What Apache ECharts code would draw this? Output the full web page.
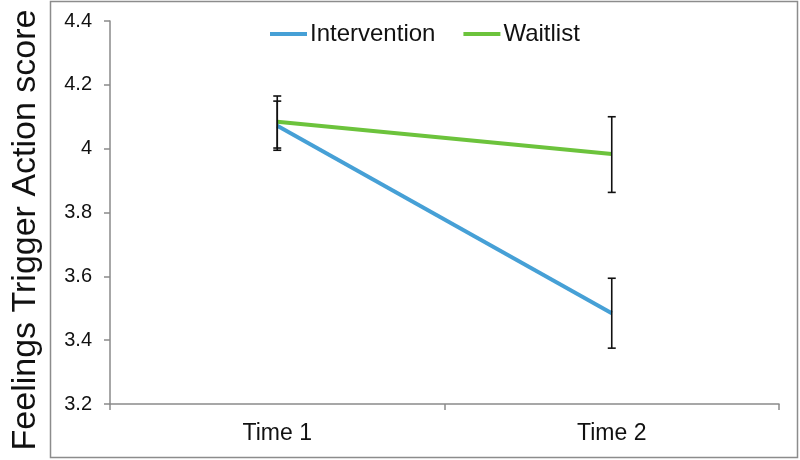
<!DOCTYPE html>
<html>
<head>
<meta charset="utf-8">
<script src="https://cdn.jsdelivr.net/npm/echarts@6/dist/echarts.min.js"></script>
<style>html,body{margin:0;padding:0;background:#fff}#c{width:800px;height:460px}</style>
</head>
<body>
<div id="c"></div>
<script>
const categories = ['Time 1', 'Time 2'];
const interventionMean = [4.072, 3.484];
const interventionLow = [3.995, 3.375];
const interventionHigh = [4.149, 3.594];
const waitlistMean = [4.084, 3.983];
const waitlistLow = [4.002, 3.863];
const waitlistHigh = [4.165, 4.100];
const yTitle = 'Feelings Trigger Action score';

const errData = [];
categories.forEach((c, i) => {
  errData.push([i, interventionLow[i], interventionHigh[i]]);
  errData.push([i, waitlistLow[i], waitlistHigh[i]]);
});

const chart = echarts.init(document.getElementById('c'), null, {renderer: 'canvas'});
const font = 'Liberation Sans, Arial, sans-serif';
chart.setOption({
  animation: false,
  backgroundColor: '#fff',
  textStyle: {fontFamily: font},
  graphic: [
    {type: 'rect', shape: {x: 50.5, y: 1.5, width: 747, height: 456}, style: {fill: 'none', stroke: '#8c8c8c', lineWidth: 1.5}, silent: true, z: -1},
    {type: 'text', x: 26, y: 230, rotation: Math.PI / 2, style: {text: yTitle, font: '34px ' + font, fill: '#111', align: 'center', verticalAlign: 'middle'}}
  ],
  legend: {
    data: ['Intervention', 'Waitlist'],
    left: 265, top: 17,
    icon: 'rect', itemWidth: 37, itemHeight: 4, itemGap: 28,
    textStyle: {fontSize: 24, color: '#111', fontFamily: font, padding: [0, 0, 0, -2]}
  },
  grid: {left: 110, right: 21, top: 21, bottom: 56},
  xAxis: {
    type: 'category', data: categories, boundaryGap: true,
    axisLine: {lineStyle: {color: '#8a8a8a', width: 1.5}},
    axisTick: {show: true, length: 6, lineStyle: {color: '#8a8a8a', width: 1.5}},
    axisLabel: {fontSize: 23, color: '#111', margin: 18, fontFamily: font}
  },
  yAxis: {
    type: 'value', min: 3.2, max: 4.4, interval: 0.2,
    axisLine: {show: true, lineStyle: {color: '#8a8a8a', width: 1.5}},
    axisTick: {show: true, length: 6, lineStyle: {color: '#8a8a8a', width: 1.5}},
    splitLine: {show: false},
    axisLabel: {fontSize: 20, color: '#111', margin: 18, fontFamily: font,
      formatter: v => String(Math.round(v * 10) / 10)}
  },
  series: [
    {name: 'Intervention', type: 'line', data: interventionMean, showSymbol: false, symbol: 'none',
     lineStyle: {color: '#46a0d6', width: 4}, itemStyle: {color: '#46a0d6'}, z: 2},
    {name: 'Waitlist', type: 'line', data: waitlistMean, showSymbol: false, symbol: 'none',
     lineStyle: {color: '#6cc33c', width: 4}, itemStyle: {color: '#6cc33c'}, z: 3},
    {name: 'err', type: 'custom', data: errData, z: 4,
     renderItem: (params, api) => {
       const x = api.value(0);
       const lo = api.coord([x, api.value(1)]);
       const hi = api.coord([x, api.value(2)]);
       const w = 4;
       const st = {stroke: '#111', lineWidth: 1.6};
       return {type: 'group', children: [
         {type: 'line', shape: {x1: lo[0], y1: lo[1], x2: hi[0], y2: hi[1]}, style: st},
         {type: 'line', shape: {x1: lo[0] - w, y1: lo[1], x2: lo[0] + w, y2: lo[1]}, style: st},
         {type: 'line', shape: {x1: hi[0] - w, y1: hi[1], x2: hi[0] + w, y2: hi[1]}, style: st}
       ]};
     }}
  ]
});
</script>
</body>
</html>
